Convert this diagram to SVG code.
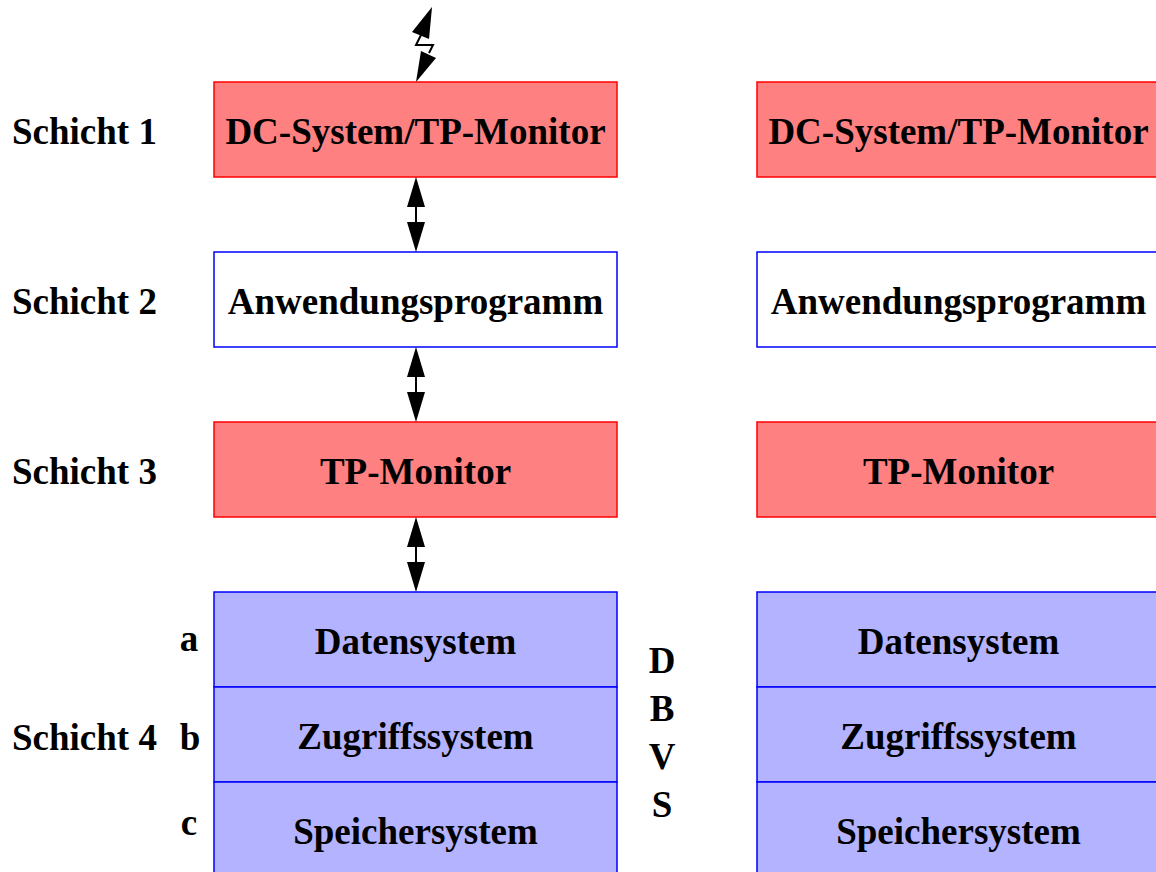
<svg xmlns="http://www.w3.org/2000/svg" width="1156" height="872" viewBox="0 0 1156 872">
  <style>
    text { font-family: "Liberation Serif", "Times New Roman", serif; font-weight: bold; font-size: 37px; fill: #000; }
    .c { text-anchor: middle; }
    .red { fill: #ff8080; stroke: #ff0000; stroke-width: 1.5; }
    .white { fill: #ffffff; stroke: #0000ff; stroke-width: 1.5; }
    .blue { fill: #b3b3ff; stroke: #0000ff; stroke-width: 1.5; }
    .conn { stroke: #000; stroke-width: 2; fill: none; }
    .head { fill: #000; stroke: none; }
  </style>
  <defs>
    <!-- two-headed vertical arrow, 75 px long, origin at its top tip -->
    <g id="dblArrow">
      <line class="conn" x1="0" y1="28" x2="0" y2="47"/>
      <polygon class="head" points="0,0 9,30 -9,30"/>
      <polygon class="head" points="0,75 9,45 -9,45"/>
    </g>
  </defs>

  <rect width="1156" height="872" fill="#ffffff"/>

  <!-- layer labels -->
  <g id="labels">
    <text x="12" y="144">Schicht 1</text>
    <text x="12" y="314">Schicht 2</text>
    <text x="12" y="484">Schicht 3</text>
    <text x="12" y="750">Schicht 4</text>
    <text x="189" y="651" class="c">a</text>
    <text x="190" y="750" class="c">b</text>
    <text x="189" y="835" class="c">c</text>
  </g>

  <!-- left stack -->
  <g id="dc-left">
    <rect class="red" x="214" y="82" width="403" height="95"/>
    <text x="415.5" y="144" class="c">DC-System/TP-Monitor</text>
  </g>
  <g id="app-left">
    <rect class="white" x="214" y="252" width="403" height="95"/>
    <text x="415.5" y="314" class="c">Anwendungsprogramm</text>
  </g>
  <g id="tp-left">
    <rect class="red" x="214" y="422" width="403" height="95"/>
    <text x="415.5" y="484" class="c">TP-Monitor</text>
  </g>
  <g id="daten-left">
    <rect class="blue" x="214" y="592" width="403" height="95"/>
    <text x="415.5" y="654" class="c">Datensystem</text>
  </g>
  <g id="zugriff-left">
    <rect class="blue" x="214" y="687" width="403" height="95"/>
    <text x="415.5" y="749" class="c">Zugriffssystem</text>
  </g>
  <g id="speicher-left">
    <rect class="blue" x="214" y="782" width="403" height="95"/>
    <text x="415.5" y="844" class="c">Speichersystem</text>
  </g>

  <!-- DBVS bracket label -->
  <g id="dbvs">
    <text x="662" y="673" class="c">D</text>
    <text x="662" y="721" class="c">B</text>
    <text x="662" y="769" class="c">V</text>
    <text x="662" y="817" class="c">S</text>
  </g>

  <!-- right stack -->
  <g id="dc-right">
    <rect class="red" x="757" y="82" width="403" height="95"/>
    <text x="958.5" y="144" class="c">DC-System/TP-Monitor</text>
  </g>
  <g id="app-right">
    <rect class="white" x="757" y="252" width="403" height="95"/>
    <text x="958.5" y="314" class="c">Anwendungsprogramm</text>
  </g>
  <g id="tp-right">
    <rect class="red" x="757" y="422" width="403" height="95"/>
    <text x="958.5" y="484" class="c">TP-Monitor</text>
  </g>
  <g id="daten-right">
    <rect class="blue" x="757" y="592" width="403" height="95"/>
    <text x="958.5" y="654" class="c">Datensystem</text>
  </g>
  <g id="zugriff-right">
    <rect class="blue" x="757" y="687" width="403" height="95"/>
    <text x="958.5" y="749" class="c">Zugriffssystem</text>
  </g>
  <g id="speicher-right">
    <rect class="blue" x="757" y="782" width="403" height="95"/>
    <text x="958.5" y="844" class="c">Speichersystem</text>
  </g>

  <!-- connectors -->
  <g id="connectors">
    <!-- lightning-bolt link to the outside -->
    <polyline class="conn" points="421,35 416,45 433,45 429,53"/>
    <polygon class="head" points="432,7 412,32 429,39"/>
    <polygon class="head" points="416,82 421,51 436,58"/>
    <use href="#dblArrow" x="416" y="177"/>
    <use href="#dblArrow" x="416" y="347"/>
    <use href="#dblArrow" x="416" y="517"/>
  </g>
</svg>
